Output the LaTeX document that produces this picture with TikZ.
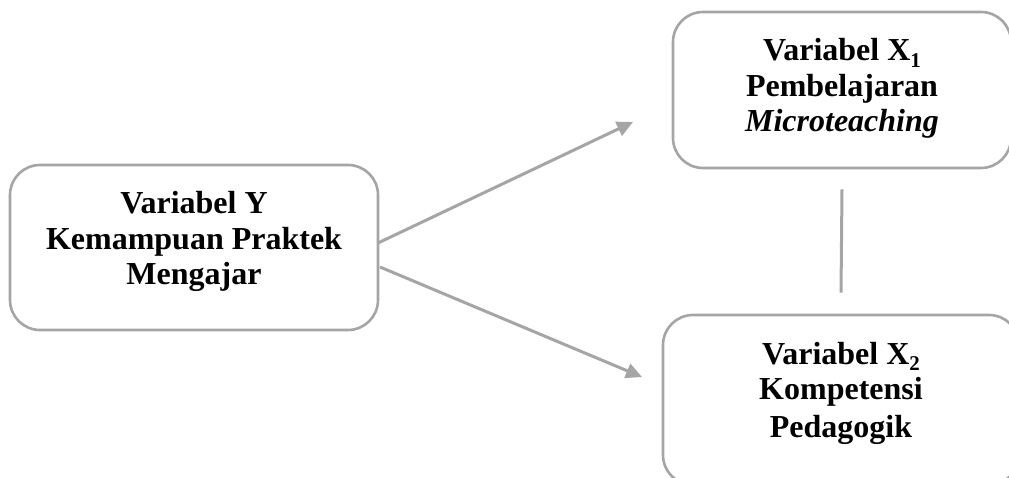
\documentclass[tikz,border=0pt]{standalone}
\usepackage{fontspec}
\setmainfont{Liberation Serif}
\usetikzlibrary{arrows.meta,calc}
\definecolor{bordergray}{RGB}{165,165,165}
\newcommand\subdigit[1]{\raisebox{-0.2em}{\fontsize{21}{21}\selectfont #1}}
\begin{document}
\begin{tikzpicture}[x=1pt,y=-1pt,
  box/.style={draw=bordergray, line width=2.6pt, rounded corners=30pt, inner sep=0pt, fill=white},
  txt/.style={font=\fontsize{32}{35.5}\selectfont\bfseries, align=center, inner sep=0pt},
  conn/.style={draw=bordergray, line width=3pt},
  arr/.style={conn, -{Triangle[length=16pt,width=15pt]}}]
\useasboundingbox (0,0) rectangle (1009,478);
\clip (0,0) rectangle (1009,478);
\fill[white] (0,0) rectangle (1009,478);
% boxes
\node[box, minimum width=368pt, minimum height=165pt] (Ybox) at (194,247.5) {};
\node[box, minimum width=338pt, minimum height=156pt] (X1box) at (842,90) {};
\node[box, minimum width=356pt, minimum height=170pt] (X2box) at (841,400) {};
% texts
\node[txt, anchor=base] (Yt) at (194,285) {Variabel Y\\Kemampuan Praktek\\Mengajar};
\node[txt, anchor=base] (X1t) at (842,132) {Variabel X\subdigit{1}\\Pembelajaran\\\textit{Microteaching}};
\node[txt, anchor=base] (X2t) at (841,437) {Variabel X\subdigit{2}\\Kompetensi\\[2pt]Pedagogik};
% connectors
\coordinate (a1s) at (378,243);
\coordinate (a1e) at (633,122);
\coordinate (a2s) at (380,267);
\coordinate (a2e) at (642,377);
\draw[arr] (a1s) -- (a1e);
\draw[arr] (a2s) -- (a2e);
\draw[conn] ($(X1box.south)+(0,20)$) -- ($(X2box.north)+(0,-21)$);
\end{tikzpicture}
\end{document}
